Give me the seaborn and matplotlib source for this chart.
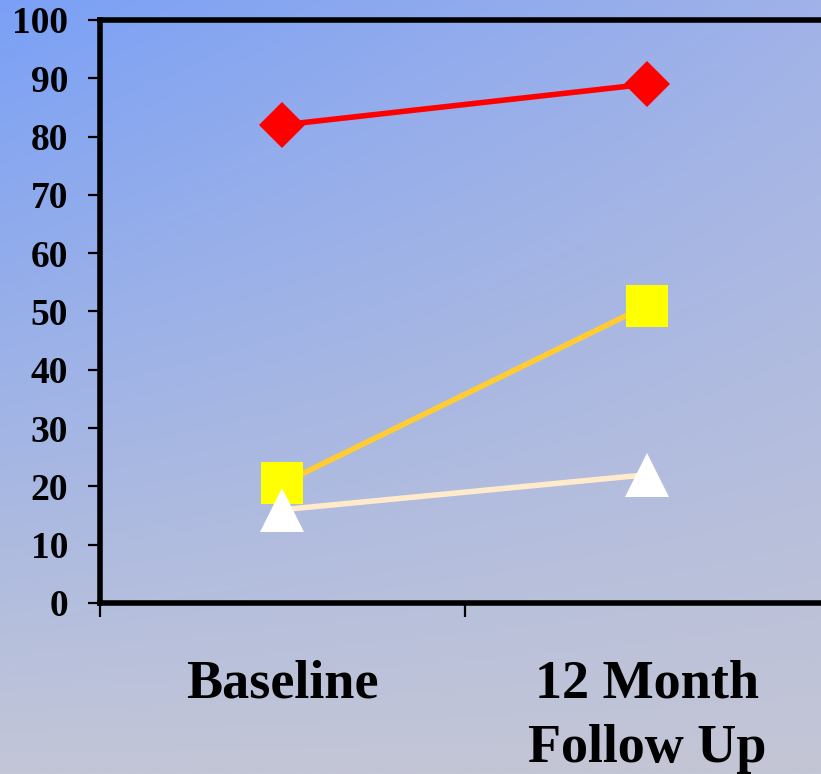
import numpy as np
import pandas as pd
import matplotlib
matplotlib.use("Agg")
import matplotlib.pyplot as plt
import seaborn as sns

categories = ["Baseline", "12 Month\nFollow Up"]
series_red = [82, 89]
series_yellow = [20.5, 51]
series_white = [16, 22]
y_ticks = [0, 10, 20, 30, 40, 50, 60, 70, 80, 90, 100]

sns.set_theme(style="ticks")
plt.rcParams["font.family"] = ["Liberation Serif", "DejaVu Serif"]
plt.rcParams["font.weight"] = "bold"
plt.rcParams["text.color"] = "black"
plt.rcParams["xtick.color"] = "black"
plt.rcParams["ytick.color"] = "black"
plt.rcParams["xtick.labelcolor"] = "black"
plt.rcParams["ytick.labelcolor"] = "black"

W, H = 821, 774
fig = plt.figure(figsize=(W / 100, H / 100), dpi=100)

# background gradient (bilinear between four corner colours)
tl = np.array([122, 160, 246]) / 255
tr = np.array([160, 178, 232]) / 255
bl = np.array([195, 198, 215]) / 255
br = np.array([196, 198, 213]) / 255
yy, xx = np.mgrid[0:1:200j, 0:1:200j]
grad = ((1 - yy)[..., None] * ((1 - xx)[..., None] * tl + xx[..., None] * tr)
        + yy[..., None] * ((1 - xx)[..., None] * bl + xx[..., None] * br))
bg = fig.add_axes([0, 0, 1, 1], zorder=-1)
bg.imshow(grad, aspect="auto", extent=[0, 1, 0, 1], interpolation="bilinear")
bg.set_axis_off()

ax = fig.add_axes([100 / W, 171 / H, 729 / W, 583 / H])
ax.set_facecolor("none")

df = pd.DataFrame({"cat": categories, "red": series_red,
                   "yellow": series_yellow, "white": series_white})

sns.lineplot(data=df, x="cat", y="red", ax=ax, color="#FF0000", linewidth=4,
             marker="D", markersize=23, markeredgewidth=0, markerfacecolor="#FF0000")
sns.lineplot(data=df, x="cat", y="yellow", ax=ax, color="#FFCC33", linewidth=4,
             marker="s", markersize=30, markeredgewidth=0, markerfacecolor="#FFFF00")
sns.lineplot(data=df, x="cat", y="white", ax=ax, color="#FFEBCC", linewidth=4,
             marker="^", markersize=32, markeredgewidth=0, markerfacecolor="#FFFFFF")

ax.set_xlim(-0.5, 1.5)
ax.set_ylim(0, 100)
ax.set_yticks(y_ticks)
ax.set_yticklabels([str(v) for v in y_ticks], fontsize=27, fontweight="bold", color="black")
ax.set_xticks([0, 1])
ax.set_xticklabels(categories, fontsize=39, fontweight="bold", linespacing=1.38, color="black")
ax.set_xticks([-0.5, 0.5, 1.5], minor=True)
ax.tick_params(axis="x", which="major", length=0, pad=41)
ax.tick_params(axis="x", which="minor", length=10, width=1.6, color="black", direction="out")
ax.tick_params(axis="y", which="major", length=9, width=1.6, color="black", pad=14)
ax.set_xlabel("")
ax.set_ylabel("")

for side in ["left", "top", "bottom"]:
    ax.spines[side].set_visible(True)
    ax.spines[side].set_linewidth(4)
    ax.spines[side].set_color("black")
ax.spines["right"].set_visible(False)

fig.savefig("out.png", dpi=100)
